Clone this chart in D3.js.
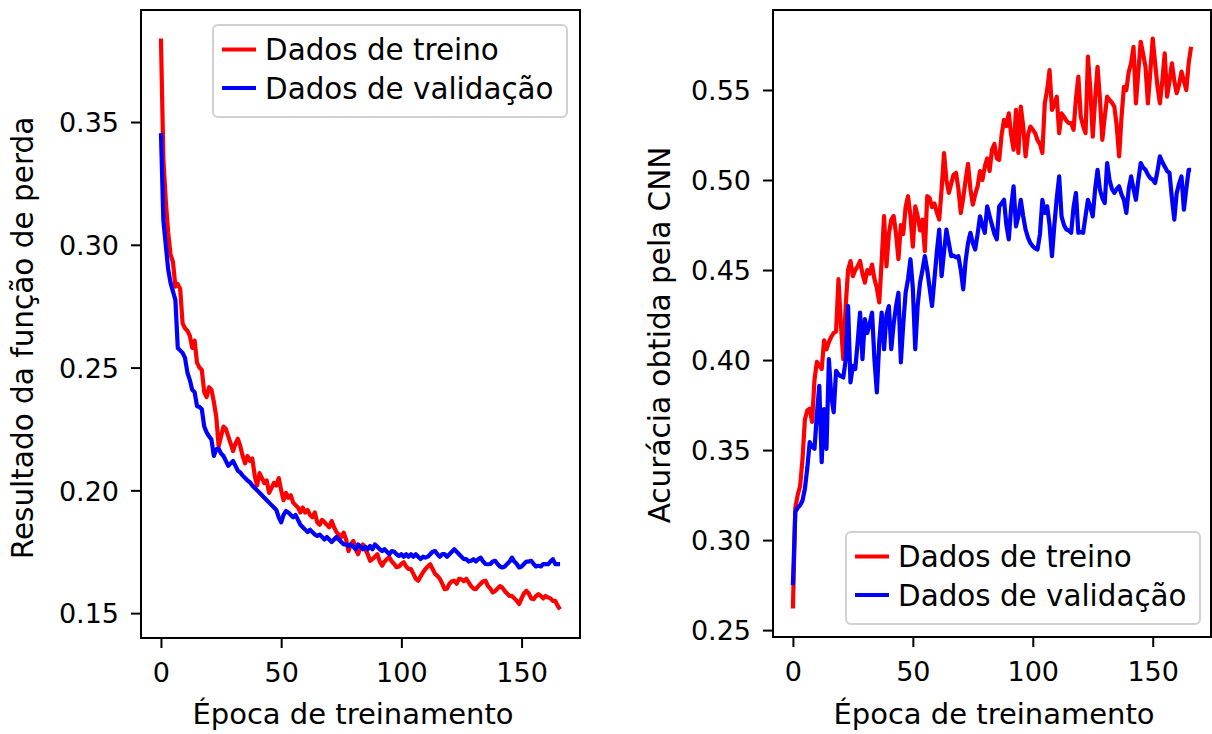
<!DOCTYPE html>
<html>
<head>
<meta charset="utf-8">
<script src="https://cdn.jsdelivr.net/npm/d3@7"></script>
<style>
  body { margin: 0; background: #fff; }
  svg { display: block; font-family: 'DejaVu Sans', sans-serif; }
</style>
</head>
<body>
<div id="chart"></div>
<script>
// perda (loss) por época
const lossTrain = [
  0.384,0.335,0.318,0.305,0.296,0.293,0.283,0.284,0.282,0.268,
  0.266,0.265,0.263,0.258,0.261,0.252,0.250,0.249,0.240,0.238,
  0.242,0.241,0.236,0.230,0.218,0.222,0.226,0.225,0.222,0.219,
  0.216,0.219,0.221,0.218,0.214,0.211,0.214,0.212,0.213,0.206,
  0.202,0.207,0.205,0.203,0.204,0.199,0.201,0.203,0.202,0.205,
  0.200,0.196,0.199,0.197,0.198,0.195,0.194,0.193,0.191,0.193,
  0.191,0.192,0.190,0.189,0.191,0.187,0.186,0.188,0.187,0.186,
  0.185,0.1875,0.185,0.183,0.182,0.181,0.1828,0.180,0.1753,0.178,
  0.1794,0.176,0.174,0.177,0.178,0.176,0.174,0.1713,0.172,0.173,
  0.174,0.171,0.1693,0.171,0.172,0.1728,0.171,0.170,0.1687,0.169,
  0.170,0.1707,0.169,0.168,0.1679,0.166,0.164,0.1632,0.165,0.1666,
  0.168,0.169,0.1699,0.168,0.166,0.1652,0.164,0.162,0.1598,0.160,
  0.162,0.163,0.1632,0.162,0.164,0.1638,0.163,0.164,0.1625,0.161,
  0.160,0.1598,0.161,0.162,0.163,0.1632,0.161,0.160,0.1584,0.159,
  0.160,0.161,0.1604,0.159,0.158,0.157,0.157,0.156,0.155,0.1537,
  0.156,0.158,0.1591,0.158,0.156,0.1557,0.157,0.1577,0.157,0.156,
  0.157,0.1564,0.156,0.155,0.155,0.153,0.1515
];
const lossVal = [
  0.3455,0.310,0.300,0.290,0.2845,0.281,0.2776,0.258,0.257,0.256,
  0.254,0.248,0.245,0.241,0.240,0.2343,0.234,0.233,0.226,0.2236,
  0.222,0.2207,0.214,0.2167,0.217,0.215,0.214,0.212,0.210,0.211,
  0.212,0.210,0.208,0.2073,0.206,0.205,0.204,0.2033,0.202,0.201,
  0.200,0.199,0.198,0.197,0.196,0.195,0.194,0.193,0.192,0.189,
  0.187,0.190,0.1916,0.191,0.190,0.189,0.190,0.188,0.186,0.185,
  0.184,0.183,0.184,0.183,0.182,0.1814,0.182,0.181,0.180,0.181,
  0.180,0.179,0.180,0.181,0.180,0.179,0.178,0.178,0.1774,0.178,
  0.177,0.176,0.178,0.177,0.176,0.177,0.176,0.1774,0.176,0.178,
  0.177,0.176,0.1753,0.176,0.175,0.174,0.1753,0.175,0.174,0.1733,
  0.174,0.173,0.174,0.173,0.174,0.173,0.174,0.173,0.172,0.173,
  0.1726,0.173,0.174,0.175,0.1753,0.174,0.173,0.174,0.174,0.173,
  0.174,0.175,0.176,0.175,0.174,0.173,0.172,0.172,0.171,0.1713,
  0.172,0.171,0.172,0.1726,0.171,0.170,0.1699,0.170,0.171,0.1713,
  0.170,0.169,0.1686,0.169,0.170,0.171,0.1726,0.171,0.170,0.1686,
  0.169,0.170,0.171,0.171,0.1713,0.170,0.169,0.1693,0.169,0.170,
  0.170,0.1699,0.171,0.172,0.170,0.170,0.170
];
// acurácia por época
const accTrain = [
  0.262,0.318,0.325,0.330,0.345,0.367,0.372,0.373,0.3656,0.389,
  0.399,0.397,0.395,0.411,0.406,0.410,0.413,0.415,0.416,0.445,
  0.420,0.4005,0.430,0.450,0.455,0.4466,0.450,0.452,0.455,0.448,
  0.443,0.450,0.448,0.453,0.445,0.440,0.432,0.455,0.480,0.452,
  0.470,0.478,0.480,0.470,0.456,0.475,0.470,0.485,0.491,0.480,
  0.463,0.4854,0.480,0.472,0.478,0.4605,0.491,0.490,0.485,0.487,
  0.482,0.478,0.495,0.515,0.500,0.4928,0.498,0.503,0.504,0.495,
  0.4817,0.490,0.500,0.509,0.495,0.4863,0.492,0.4965,0.505,0.500,
  0.5075,0.512,0.505,0.5168,0.520,0.512,0.5112,0.525,0.5334,0.530,
  0.537,0.525,0.5168,0.539,0.515,0.5408,0.530,0.5131,0.525,0.5297,
  0.528,0.526,0.522,0.520,0.515,0.5426,0.550,0.5611,0.539,0.542,
  0.5463,0.526,0.537,0.5352,0.533,0.5316,0.5316,0.5279,0.545,0.5574,
  0.5352,0.530,0.526,0.5685,0.550,0.5241,0.545,0.5629,0.545,0.5223,
  0.535,0.5463,0.5445,0.543,0.5408,0.530,0.5131,0.535,0.5518,0.550,
  0.560,0.565,0.574,0.5426,0.560,0.5768,0.570,0.5629,0.5426,0.560,
  0.5786,0.565,0.5518,0.5426,0.555,0.5703,0.5463,0.555,0.5648,0.555,
  0.5482,0.553,0.5602,0.555,0.550,0.565,0.574
];
const accVal = [
  0.275,0.3156,0.318,0.3193,0.322,0.3285,0.340,0.3544,0.352,0.3507,
  0.370,0.3857,0.3433,0.3728,0.3507,0.4005,0.380,0.371,0.394,0.392,
  0.391,0.3903,0.400,0.430,0.3876,0.3968,0.395,0.410,0.4264,0.4005,
  0.4227,0.415,0.420,0.4264,0.400,0.382,0.410,0.4264,0.406,0.425,
  0.430,0.406,0.420,0.430,0.4374,0.3987,0.420,0.4374,0.445,0.456,
  0.440,0.406,0.430,0.443,0.450,0.4577,0.450,0.440,0.430,0.445,
  0.460,0.4725,0.4466,0.460,0.4725,0.465,0.4577,0.458,0.457,0.4577,
  0.450,0.4393,0.455,0.465,0.4707,0.465,0.4614,0.470,0.4798,0.475,
  0.4707,0.4854,0.480,0.475,0.470,0.467,0.4854,0.487,0.489,0.475,
  0.467,0.485,0.4965,0.4743,0.480,0.489,0.480,0.4725,0.468,0.465,
  0.4632,0.462,0.4614,0.470,0.489,0.4817,0.4854,0.475,0.4577,0.475,
  0.490,0.502,0.4798,0.475,0.4725,0.472,0.4707,0.485,0.4928,0.4707,
  0.471,0.4707,0.480,0.489,0.485,0.4798,0.495,0.5057,0.4946,0.490,
  0.4872,0.5094,0.500,0.495,0.4928,0.495,0.4965,0.492,0.489,0.4817,
  0.495,0.502,0.495,0.489,0.500,0.5094,0.507,0.5057,0.503,0.501,
  0.5002,0.4983,0.505,0.5131,0.510,0.5075,0.505,0.5039,0.490,0.478,
  0.4928,0.498,0.502,0.4835,0.495,0.5057,0.5057
];
const xTicks = [0, 50, 100, 150];
const lossTicks = [0.15, 0.20, 0.25, 0.30, 0.35];
const accTicks = [0.25, 0.30, 0.35, 0.40, 0.45, 0.50, 0.55];
const seriesNames = ['Dados de treino', 'Dados de validação'];
const colors = ['#ff0000', '#0000ff'];

const W = 1212, H = 734;
const svg = d3.select('#chart').append('svg').attr('width', W).attr('height', H);

function panel(cfg) {
  const g = svg.append('g');
  const n = cfg.train.length;
  const xMax = n - 1;
  const xPad = xMax * 0.05;
  const x = d3.scaleLinear().domain([-xPad, xMax + xPad]).range([cfg.left, cfg.right]);
  const all = cfg.train.concat(cfg.val);
  const lo = d3.min(all), hi = d3.max(all), pad = (hi - lo) * 0.05;
  const y = d3.scaleLinear().domain([lo - pad, hi + pad]).range([cfg.bottom, cfg.top]);

  const line = d3.line().x((d, i) => x(i)).y(d => y(d));
  [cfg.train, cfg.val].forEach((s, k) => {
    g.append('path').datum(s)
      .attr('d', line)
      .attr('fill', 'none')
      .attr('stroke', colors[k])
      .attr('stroke-width', 4.2)
      .attr('stroke-linejoin', 'round')
      .attr('stroke-linecap', 'butt');
  });

  // eixos
  const xa = g.append('g').attr('transform', 'translate(0,' + cfg.bottom + ')')
    .call(d3.axisBottom(x).tickValues(xTicks).tickSize(10).tickPadding(8).tickFormat(d3.format('d')));
  const ya = g.append('g').attr('transform', 'translate(' + cfg.left + ',0)')
    .call(d3.axisLeft(y).tickValues(cfg.yTicks).tickSize(10).tickPadding(12).tickFormat(d3.format('.2f')));
  [xa, ya].forEach(a => {
    a.select('.domain').remove();
    a.selectAll('.tick line').attr('stroke', '#000').attr('stroke-width', 2);
    a.selectAll('.tick text').attr('fill', '#000').style('font-size', '27px')
      .style('font-family', "'DejaVu Sans', sans-serif");
  });
  xa.selectAll('.tick text').attr('dy', null).attr('y', 44);
  ya.selectAll('.tick text').attr('dy', '0.36em');

  g.append('rect')
    .attr('x', cfg.left).attr('y', cfg.top)
    .attr('width', cfg.right - cfg.left).attr('height', cfg.bottom - cfg.top)
    .attr('fill', 'none').attr('stroke', '#000').attr('stroke-width', 2);

  g.append('text')
    .attr('x', cfg.xlabelX).attr('y', 724)
    .attr('text-anchor', 'middle').style('font-size', '29px')
    .text('Época de treinamento');
  g.append('text')
    .attr('transform', 'translate(' + cfg.ylabelX + ',' + cfg.ylabelY + ') rotate(-90)')
    .attr('text-anchor', 'middle').style('font-size', '29.5px')
    .text(cfg.ylabel);

  // legenda
  const lg = g.append('g').attr('transform', 'translate(' + cfg.legX + ',' + cfg.legY + ')');
  lg.append('rect').attr('width', 354).attr('height', 92).attr('rx', 5)
    .attr('fill', '#fff').attr('fill-opacity', 0.8)
    .attr('stroke', '#d0d0d0').attr('stroke-width', 2);
  seriesNames.forEach((name, k) => {
    const cy = 24.5 + k * 38.5;
    lg.append('line').attr('x1', 9).attr('x2', 43).attr('y1', cy).attr('y2', cy)
      .attr('stroke', colors[k]).attr('stroke-width', 4.2);
    lg.append('text').attr('x', 52).attr('y', cy + 10.5)
      .style('font-size', '29.4px').text(name);
  });
}

panel({
  train: lossTrain, val: lossVal, yTicks: lossTicks,
  left: 141, right: 580, top: 10, bottom: 638,
  xlabelX: 353, ylabelX: 33, ylabelY: 338,
  ylabel: 'Resultado da função de perda',
  legX: 213, legY: 25
});
panel({
  train: accTrain, val: accVal, yTicks: accTicks,
  left: 773, right: 1211, top: 10, bottom: 637,
  xlabelX: 994, ylabelX: 670, ylabelY: 335,
  ylabel: 'Acurácia obtida pela CNN',
  legX: 846, legY: 532
});
</script>
</body>
</html>
